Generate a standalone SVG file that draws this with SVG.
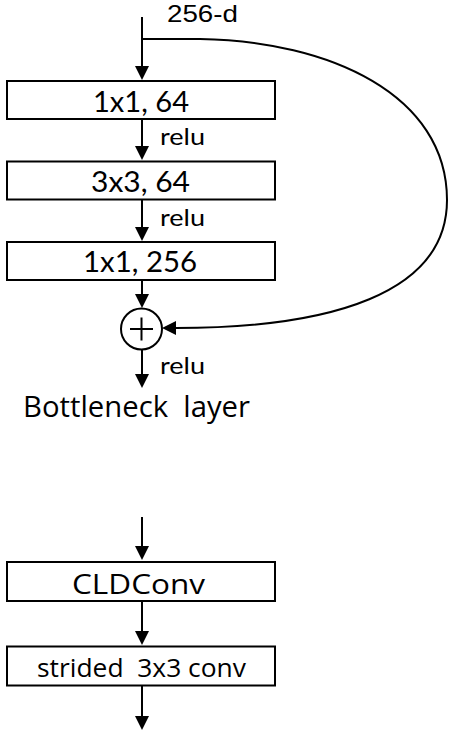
<svg xmlns="http://www.w3.org/2000/svg" width="451" height="734" viewBox="0 0 451 734">
  <defs>
    <!-- filled arrowhead; its base sits on the end of the line -->
    <marker id="arrow" markerUnits="userSpaceOnUse" markerWidth="14" markerHeight="14" refX="0" refY="7" orient="auto" overflow="visible">
      <path d="M0,0 L14,7 L0,14 Z" fill="#000"/>
    </marker>
    <style>
      .box { fill: #fff; stroke: #000; stroke-width: 2; }
      .edge { fill: none; stroke: #000; stroke-width: 2; }
      .lbl { font-family: Lato, "Liberation Sans", sans-serif; fill: #000; }
      .top { font-family: "Liberation Sans", Lato, sans-serif; fill: #000; }
      .cap { font-family: "Open Sans", "Noto Sans", "Liberation Sans", sans-serif; fill: #000; white-space: pre; }
    </style>
  </defs>

  <rect width="451" height="734" fill="#fff"/>

  <!-- connectors -->
  <g id="connectors">
    <line class="edge" x1="142" y1="17" x2="142" y2="66" marker-end="url(#arrow)"/>
    <path class="edge" d="M142,39 L200,39 C330,41 447,95 447,200 C447,294 330,328 176,328" marker-end="url(#arrow)"/>
    <line class="edge" x1="142" y1="120" x2="142" y2="146" marker-end="url(#arrow)"/>
    <line class="edge" x1="142" y1="200" x2="142" y2="227" marker-end="url(#arrow)"/>
    <line class="edge" x1="142" y1="280" x2="142" y2="294" marker-end="url(#arrow)"/>
    <line class="edge" x1="142" y1="350" x2="142" y2="374" marker-end="url(#arrow)"/>
    <line class="edge" x1="142" y1="517" x2="142" y2="546" marker-end="url(#arrow)"/>
    <line class="edge" x1="142" y1="602" x2="142" y2="631" marker-end="url(#arrow)"/>
    <line class="edge" x1="142" y1="686" x2="142" y2="716" marker-end="url(#arrow)"/>
  </g>

  <!-- edge labels -->
  <g id="edge-labels">
    <text class="top" x="167" y="22" font-size="24" textLength="71" lengthAdjust="spacingAndGlyphs">256-d</text>
    <text class="lbl" x="160" y="145" font-size="23" textLength="45" lengthAdjust="spacingAndGlyphs">relu</text>
    <text class="lbl" x="160" y="226" font-size="23" textLength="45" lengthAdjust="spacingAndGlyphs">relu</text>
    <text class="lbl" x="160" y="374" font-size="23" textLength="45" lengthAdjust="spacingAndGlyphs">relu</text>
  </g>

  <!-- bottleneck block -->
  <g id="conv1x1-64">
    <rect class="box" x="7" y="81" width="268" height="38"/>
    <text class="lbl" x="93" y="111.5" font-size="29" textLength="96" lengthAdjust="spacingAndGlyphs">1x1, 64</text>
  </g>
  <g id="conv3x3-64">
    <rect class="box" x="7" y="161.5" width="268" height="38"/>
    <text class="lbl" x="91" y="191.5" font-size="29" textLength="99" lengthAdjust="spacingAndGlyphs">3x3, 64</text>
  </g>
  <g id="conv1x1-256">
    <rect class="box" x="7" y="242" width="268" height="38"/>
    <text class="lbl" x="83" y="272" font-size="29" textLength="114" lengthAdjust="spacingAndGlyphs">1x1, 256</text>
  </g>
  <g id="add">
    <circle cx="141.5" cy="329" r="20.5" fill="#fff" stroke="#000" stroke-width="2"/>
    <path d="M130,329 H153 M141.5,317.5 V340.5" stroke="#000" stroke-width="2" fill="none"/>
  </g>
  <g id="caption">
    <text class="cap" x="23" y="417" font-size="30" textLength="227" lengthAdjust="spacingAndGlyphs">Bottleneck  layer</text>
  </g>

  <!-- lower block -->
  <g id="cldconv">
    <rect class="box" x="7" y="562" width="268" height="39"/>
    <text class="cap" x="72" y="593.5" font-size="28" textLength="133" lengthAdjust="spacingAndGlyphs">CLDConv</text>
  </g>
  <g id="strided-conv">
    <rect class="box" x="7" y="646.5" width="268" height="39"/>
    <text class="cap" x="37" y="677" font-size="26" textLength="209" lengthAdjust="spacingAndGlyphs">strided  3x3 conv</text>
  </g>
</svg>
